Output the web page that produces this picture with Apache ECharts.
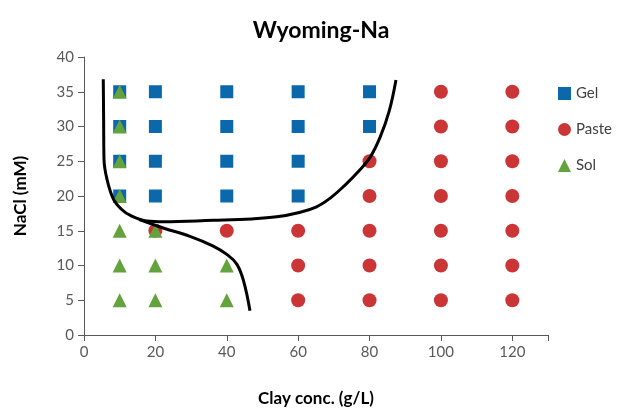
<!DOCTYPE html>
<html><head><meta charset="utf-8">
<script src="https://cdn.jsdelivr.net/npm/echarts@6/dist/echarts.min.js"></script>
<style>html,body{margin:0;padding:0;background:#fff}#c{width:624px;height:412px}</style>
</head><body><div id="c"></div>
<script>
const xTicks = [0, 20, 40, 60, 80, 100, 120];
const yTicks = [0, 5, 10, 15, 20, 25, 30, 35, 40];
const gel = [[10,35],[10,30],[10,25],[10,20],[20,35],[20,30],[20,25],[20,20],[40,35],[40,30],[40,25],[40,20],[60,35],[60,30],[60,25],[60,20],[80,35],[80,30]];
const paste = [[20,15],[40,15],[60,15],[60,10],[60,5],[80,25],[80,20],[80,15],[80,10],[80,5],
  [100,35],[100,30],[100,25],[100,20],[100,15],[100,10],[100,5],
  [120,35],[120,30],[120,25],[120,20],[120,15],[120,10],[120,5]];
const sol = [[10,35],[10,30],[10,25],[10,20],[10,15],[10,10],[10,5],[20,15],[20,10],[20,5],[40,10],[40,5]];
const boundary1 = [[5.4,36.8],[5.5,31],[5.6,25.3],[6.4,22.5],[8.2,19.6],[10.5,18.1],[13,17.2],[17.6,16.4],[22.2,16.3],[36.2,16.5],[47,16.7],[54,17.0],[60,17.6],[65,18.4],[69,19.7],[73,21.5],[77,23.6],[80.2,25.6],[83,28.5],[85.5,32.2],[87.4,36.7]];
const boundary2 = [[15.5,16.6],[22.2,15.4],[29.7,14.2],[36.2,12.8],[40,11.6],[42.8,10.2],[44.7,7.8],[46.5,3.5]];

const font = 'Lato, "Noto Sans", sans-serif';
const chart = echarts.init(document.getElementById('c'), null, {renderer: 'canvas'});
chart.setOption({
  animation: false,
  backgroundColor: '#fff',
  title: {text: 'Wyoming-Na', left: 316, top: 14, textAlign: 'center',
    textStyle: {fontFamily: font, fontSize: 23, fontWeight: 'bold', color: '#000'}},
  grid: {left: 84, right: 76, top: 57, bottom: 74},
  legend: {
    data: ['Gel', 'Paste', 'Sol'], orient: 'vertical', left: 553, top: 81,
    itemWidth: 13, itemHeight: 13, itemGap: 21,
    textStyle: {fontFamily: font, fontSize: 15, color: '#404040'}
  },
  xAxis: {
    type: 'value', min: 0, max: 130, interval: 20,
    name: 'Clay conc. (g/L)', nameLocation: 'middle', nameGap: 55,
    nameTextStyle: {fontFamily: font, fontSize: 17, fontWeight: 'bold', color: '#000'},
    axisLine: {show: true, lineStyle: {color: '#595959', width: 1}},
    axisTick: {show: true, length: 6, lineStyle: {color: '#595959'}},
    axisLabel: {fontFamily: font, fontSize: 15, color: '#595959', margin: 10,
      formatter: v => xTicks.includes(v) ? String(v) : ''},
    splitLine: {show: false}
  },
  yAxis: {
    type: 'value', min: 0, max: 40, interval: 5,
    name: 'NaCl (mM)', nameLocation: 'middle', nameGap: 55, nameRotate: 90,
    nameTextStyle: {fontFamily: font, fontSize: 17, fontWeight: 'bold', color: '#000'},
    axisLine: {show: true, lineStyle: {color: '#595959', width: 1}},
    axisTick: {show: true, length: 6, lineStyle: {color: '#595959'}},
    axisLabel: {fontFamily: font, fontSize: 15, color: '#595959', margin: 10,
      formatter: v => yTicks.includes(v) ? String(v) : ''},
    splitLine: {show: false}
  },
  series: [
    {name: 'Gel', type: 'scatter', data: gel, symbol: 'rect', symbolSize: 13,
      itemStyle: {color: '#0b68aa', opacity: 1}, z: 2},
    {name: 'Paste', type: 'scatter', data: paste, symbol: 'circle', symbolSize: 14,
      itemStyle: {color: '#cc3535', opacity: 1}, z: 2},
    {name: 'Sol', type: 'scatter', data: sol, symbol: 'triangle', symbolSize: 14,
      itemStyle: {color: '#63a23c', opacity: 1}, z: 3},
    {name: 'b1', type: 'line', data: boundary1, smooth: 0.4, symbol: 'none',
      lineStyle: {color: '#000', width: 3}, z: 4, silent: true},
    {name: 'b2', type: 'line', data: boundary2, smooth: 0.4, symbol: 'none',
      lineStyle: {color: '#000', width: 3}, z: 4, silent: true}
  ]
});
</script></body></html>
